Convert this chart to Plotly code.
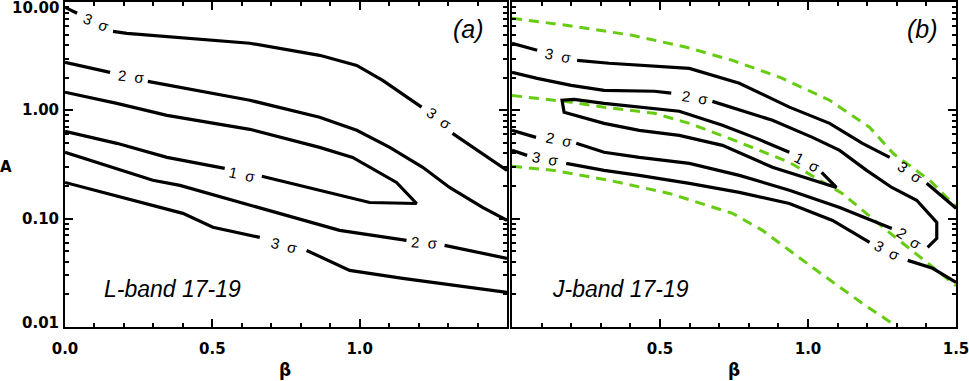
import numpy as np
import plotly.graph_objects as go

#%% Data. None = gap left for a contour label.

# Panel (a), L-band 17-19
a3u_x = [0.0, 0.041, None, 0.163, 0.210, 0.627, 0.864, 0.990, 1.078, 1.210, None, 1.315, 1.5]
a3u_y = [8.93, 7.87, None, 5.36, 5.14, 4.16, 3.22, 2.60, 1.89, 1.07, None, 0.613, 0.279]
a2u_x = [0.0, 0.153, None, 0.281, 0.627, 0.864, 0.990, 1.102, 1.214, 1.305, 1.417, 1.5]
a2u_y = [2.77, 2.24, None, 1.85, 1.24, 0.862, 0.654, 0.455, 0.298, 0.194, 0.127, 0.0964]
a1_x = [0.0, 0.176, 0.346, 0.627, 0.864, 0.976, 1.125, 1.193, 1.034, 0.668, None, 0.542, 0.346, 0.176, 0.0]
a1_y = [1.47, 1.16, 0.899, 0.668, 0.455, 0.368, 0.216, 0.138, 0.141, 0.246, None, 0.291, 0.368, 0.496, 0.64]
a2l_x = [0.0, 0.298, 0.390, 0.569, 0.661, 0.932, 1.159, None, 1.288, 1.5]
a2l_y = [0.410, 0.226, 0.203, 0.148, 0.127, 0.078, 0.0631, None, 0.0567, 0.043]
a3l_x = [0.0, 0.4, 0.502, 0.661, None, 0.820, 0.966, 1.146, 1.5]
a3l_y = [0.216, 0.112, 0.0832, 0.0672, None, 0.0509, 0.0333, 0.0281, 0.0209]

# Panel (b), J-band 17-19
b3u_x = [0.0, 0.085, None, 0.220, 0.328, 0.599, 0.768, 0.937, 1.073, 1.184, 1.276, None, 1.401, 1.5]
b3u_y = [4.16, 3.58, None, 2.89, 2.72, 2.44, 1.78, 1.07, 0.758, 0.496, 0.368, None, 0.212, 0.125]
b2_x = [0.0, 0.085, 0.20, 0.311, 0.481, 0.538, None, 0.677, 0.880, 1.015, 1.107, 1.198, 1.283,
        1.367, 1.435, 1.435, 1.404, None, 1.283, 1.107, 0.937, 0.768, 0.599, 0.430, 0.311,
        0.217, None, 0.081, 0.0]
b2_y = [2.24, 1.97, 1.70, 1.53, 1.50, 1.44, None, 1.21, 0.809, 0.563, 0.427, 0.279, 0.194,
        0.148, 0.0925, 0.0658, 0.0543, None, 0.0813, 0.127, 0.183, 0.251, 0.324, 0.368, 0.41,
        0.496, None, 0.563, 0.654]
b1_x = [1.046, 1.096, 0.880, 0.711, 0.565, 0.430, 0.311, 0.210, 0.176, 0.169, 0.210, 0.311,
        0.430, 0.565, 0.711, 0.826, 0.937]
b1_y = [0.268, 0.194, 0.298, 0.475, 0.588, 0.654, 0.758, 0.899, 0.959, 1.24, 1.26, 1.16,
        1.07, 0.98, 0.727, 0.551, 0.41]
b3l_x = [0.0, 0.051, None, 0.183, 0.311, 0.430, 0.599, 0.768, 0.937, 1.083, 1.208, None, 1.337, 1.421, 1.5]
b3l_y = [0.427, 0.384, None, 0.324, 0.279, 0.251, 0.212, 0.175, 0.138, 0.0964, 0.0604, None, 0.0412, 0.0348, 0.0258]

# green dashed curves, panel (b)
g1_x = [0.0, 0.183, 0.406, 0.589, 0.745, 0.904, 1.073, 1.208, 1.29, 1.411, 1.469, 1.5]
g1_y = [7.07, 6.10, 4.93, 3.82, 2.89, 2.02, 1.24, 0.697, 0.395, 0.226, 0.157, 0.13]
g2_x = [0.0, 0.176, 0.311, 0.481, 0.599, 0.768, 0.937, 1.117, 1.266, 1.421, 1.5]
g2_y = [1.37, 1.21, 1.07, 0.938, 0.758, 0.507, 0.331, 0.17, 0.078, 0.0355, 0.024]
g3_x = [0.0, 0.142, 0.328, 0.531, 0.745, 0.846, 1.015, 1.184, 1.303]
g3_y = [0.304, 0.279, 0.226, 0.171, 0.112, 0.078, 0.0355, 0.0165, 0.01]

# contour labels
lab_a_x = [0.108, 0.224, 0.603, 1.271, 0.746, 1.220]
lab_a_y = [6.49, 2.06, 0.257, 0.843, 0.0567, 0.0604]
lab_a_txt = ["3", "2", "1", "3", "3", "2"]
lab_a_ang = [22, 6, 12, 36, 14, 3]
lab_b_x = [0.156, 0.619, 0.998, 1.347, 1.343, 1.269, 0.159, 0.112]
lab_b_y = [3.22, 1.32, 0.331, 0.268, 0.0658, 0.0509, 0.54, 0.36]
lab_b_txt = ["3", "2", "1", "3", "2", "3", "2", "3"]
lab_b_ang = [12, 8, 28, 35, 35, 28, 12, 10]

# axes ticks
x_ticks_a = [0.0, 0.5, 1.0]
x_ticks_b = [0.5, 1.0, 1.5]
y_ticks = [0.01, 0.1, 1.0, 10.0]
y_ticktext = ["0.01", "0.10", "1.00", "10.00"]

#%% Figure

BLACK = dict(color="black", width=3.2)
GREEN = dict(color="#66cc11", width=3, dash="10px,7px")

fig = go.Figure()
for xs, ys in [(a3u_x, a3u_y), (a2u_x, a2u_y), (a1_x, a1_y), (a2l_x, a2l_y), (a3l_x, a3l_y)]:
    fig.add_trace(go.Scatter(x=xs, y=ys, mode="lines", line=BLACK, connectgaps=False,
                             xaxis="x", yaxis="y"))
for xs, ys in [(g1_x, g1_y), (g2_x, g2_y), (g3_x, g3_y)]:
    fig.add_trace(go.Scatter(x=xs, y=ys, mode="lines", line=GREEN, xaxis="x2", yaxis="y2"))
for xs, ys in [(b3u_x, b3u_y), (b2_x, b2_y), (b1_x, b1_y), (b3l_x, b3l_y)]:
    fig.add_trace(go.Scatter(x=xs, y=ys, mode="lines", line=BLACK, connectgaps=False,
                             xaxis="x2", yaxis="y2"))

minor_x = [round(0.1 * i, 1) for i in range(1, 15) if i % 5 != 0]
minor_y = [m * 10.0 ** e for e in (-2, -1, 0) for m in range(2, 10)]

axis_common = dict(showline=True, linecolor="black", linewidth=2, mirror="ticks",
                   ticks="inside", ticklen=8, tickwidth=2, tickcolor="black",
                   showgrid=False, zeroline=False, automargin=False)
xfont = dict(family="DejaVu Sans", size=15, color="black", weight="bold")
xminor = dict(tickvals=minor_x, ticks="inside", ticklen=4, tickwidth=2, tickcolor="black")
yminor = dict(tickvals=minor_y, ticks="inside", ticklen=4, tickwidth=2, tickcolor="black")

fig.update_layout(
    width=969, height=381,
    margin=dict(l=65, r=13, t=2, b=54),
    paper_bgcolor="white", plot_bgcolor="white",
    showlegend=False,
    xaxis=dict(domain=[0, 0.4961], range=[0, 1.5], tickvals=x_ticks_a,
               ticktext=["%.1f" % v for v in x_ticks_a], tickfont=xfont,
               ticklabelstandoff=7, ticklabeloverflow="allow", minor=xminor, anchor="y",
               **axis_common),
    yaxis=dict(domain=[0, 1], type="log", range=[-2, 1], tickvals=y_ticks,
               showticklabels=False, minor=yminor, anchor="x", **axis_common),
    xaxis2=dict(domain=[0.5017, 1], range=[0, 1.5], tickvals=x_ticks_b,
                ticktext=["%.1f" % v for v in x_ticks_b], tickfont=xfont,
                ticklabelstandoff=7, ticklabeloverflow="allow", minor=xminor, anchor="y2",
                **axis_common),
    yaxis2=dict(domain=[0, 1], type="log", range=[-2, 1], tickvals=y_ticks,
                showticklabels=False, minor=yminor, anchor="x2", **axis_common),
)

ann = []
# y tick labels (panel a)
yshift = {10.0: -6, 0.01: 4}
for v, t in zip(y_ticks, y_ticktext):
    ann.append(dict(x=-0.005, xref="paper", xanchor="right", yanchor="middle",
                    y=np.log10(v), yref="y", text=t, showarrow=False, yshift=yshift.get(v, 0),
                    font=dict(family="DejaVu Sans", size=15, color="black", weight="bold")))

lab_font = dict(family="Liberation Sans", size=15, color="black")
for xs, ys, ts, angs, xr, yr in [(lab_a_x, lab_a_y, lab_a_txt, lab_a_ang, "x", "y"),
                                 (lab_b_x, lab_b_y, lab_b_txt, lab_b_ang, "x2", "y2")]:
    for x, y, t, a in zip(xs, ys, ts, angs):
        ann.append(dict(x=x, y=np.log10(y), xref=xr, yref=yr, text=t + "\u00a0\u00a0σ",
                        xanchor="center", yanchor="middle",
                        textangle=a, showarrow=False, font=lab_font))

ital = dict(family="Liberation Sans", color="black", style="italic")
def paper_text(x, y, text, font):
    return dict(x=x, y=y, xref="paper", yref="paper", text=text, showarrow=False,
                xanchor="center", yanchor="middle", font=font)

bold = dict(family="DejaVu Sans", color="black", weight="bold")
ann += [
    paper_text(-0.066, 0.492, "A", dict(size=15, **bold)),
    paper_text(0.247, -0.132, "β", dict(size=17, **bold)),
    paper_text(0.751, -0.132, "β", dict(size=17, **bold)),
    paper_text(0.453, 0.917, "(a)", dict(size=25, **ital)),
    paper_text(0.962, 0.917, "(b)", dict(size=25, **ital)),
    paper_text(0.121, 0.117, "L-band 17-19", dict(size=23, **ital)),
    paper_text(0.623, 0.117, "J-band 17-19", dict(size=23, **ital)),
]
fig.update_layout(annotations=ann)

fig.write_html("out.html", config={"displayModeBar": False},
               post_script="document.body.style.margin='0';")
